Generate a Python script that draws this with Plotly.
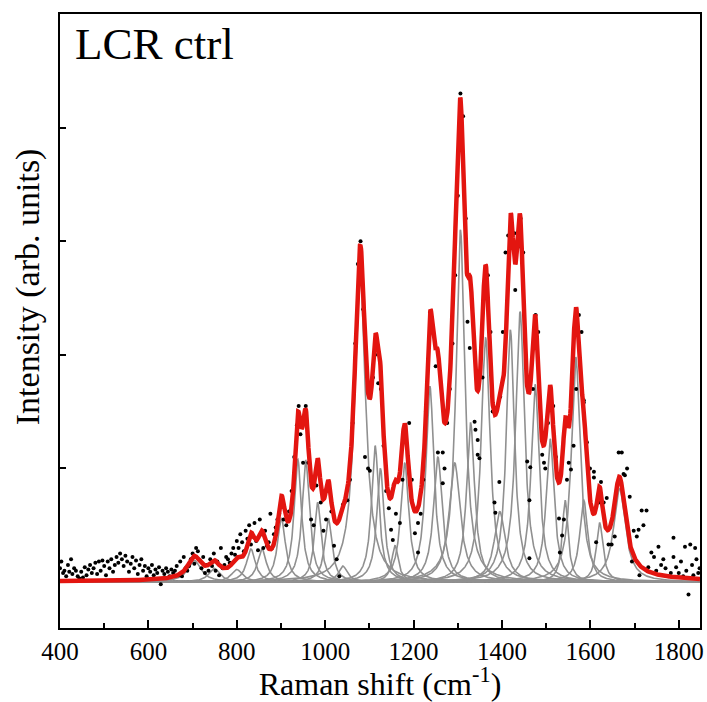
import numpy as np
import plotly.graph_objects as go

# Fitted Lorentzian components: centre (cm-1), height, half-width
peak_center = [704, 749, 800, 832, 857, 901, 938, 956, 983, 1007, 1040, 1079, 1113, 1125,
               1158, 1180, 1237, 1255, 1293, 1306, 1329, 1363, 1395, 1419, 1441, 1475,
               1509, 1543, 1567, 1585, 1621, 1666]
peak_height = [0.19, 0.12, 0.11, 0.29, 0.29, 0.56, 1.08, 1.07, 0.70, 0.56, 0.14, 2.72, 1.20, 1.00,
               0.32, 1.05, 1.72, 1.10, 1.05, 3.10, 1.40, 2.15, 0.62, 2.22, 2.38, 1.74,
               1.26, 0.72, 1.98, 0.72, 0.52, 0.82]
peak_width = [18, 15, 15, 12, 12, 11, 10, 10, 9, 10, 12, 15, 10, 10,
              9, 11, 11, 12, 15, 12, 11, 12, 15, 11, 12, 11,
              11, 8, 12, 11, 9, 16]

# Measured spectrum points (black dots)
dot_x = [400, 403, 407, 410, 414, 418, 421, 425, 428, 432, 436, 440, 444, 448, 452, 456, 460, 464,
         468, 472, 476, 480, 484, 488, 492, 496, 500, 504, 508, 512, 516, 520, 524, 528, 532, 536,
         540, 544, 548, 552, 556, 560, 564, 568, 572, 576, 580, 584, 588, 592, 596, 600, 604, 608,
         612, 616, 620, 624, 628, 632, 636, 640, 644, 648, 652, 656, 660, 664, 668, 672, 676, 680,
         684, 688, 692, 696, 700, 704, 708, 712, 716, 720, 724, 728, 732, 736, 740, 744, 748, 752,
         756, 760, 764, 768, 772, 776, 780, 784, 788, 792, 796, 800, 804, 808, 812, 816, 820, 824,
         828, 832, 836, 840, 844, 848, 852, 856, 860, 864, 868, 872, 876, 880, 884, 888, 892, 896,
         900, 906, 912, 918, 924, 930, 936, 940, 944, 950, 956, 962, 968, 974, 980, 984, 990, 996,
         1002, 1008, 1014, 1020, 1026, 1032, 1040, 1044, 1050, 1056, 1062, 1068, 1074, 1080, 1086,
         1090, 1097, 1101, 1108, 1113, 1120, 1126, 1132, 1138, 1144, 1149, 1153, 1160, 1169, 1175,
         1183, 1190, 1196, 1203, 1210, 1210, 1216, 1222, 1228, 1237, 1244, 1250, 1255, 1266, 1270,
         1266, 1276, 1282, 1288, 1294, 1300, 1306, 1312, 1318, 1322, 1327, 1338, 1340, 1345, 1345,
         1349, 1356, 1362, 1368, 1374, 1379, 1383, 1385, 1394, 1396, 1402, 1408, 1414, 1420, 1428,
         1430, 1436, 1442, 1448, 1452, 1457, 1462, 1462, 1464, 1470, 1476, 1482, 1491, 1495, 1498,
         1504, 1510, 1516, 1522, 1529, 1529, 1531, 1536, 1540, 1547, 1551, 1556, 1562, 1568, 1574,
         1580, 1585, 1585, 1592, 1599, 1608, 1608, 1613, 1619, 1624, 1630, 1637, 1641, 1648, 1655,
         1664, 1671, 1675, 1678, 1683, 1689, 1694, 1698, 1705, 1709, 1711, 1716, 1720, 1727, 1731,
         1738, 1744, 1749, 1754, 1760, 1765, 1770, 1776, 1782, 1788, 1788, 1794, 1800, 1805, 1810,
         1814, 1817, 1822, 1826, 1830, 1833, 1837, 1840, 1844, 1847]
dot_y = [0.12, 0.18, 0.08, 0.10, 0.05, 0.15, 0.09, 0.20, 0.07, 0.12, 0.10, 0.05, 0.03, 0.09, 0.04,
         0.13, 0.06, 0.11, 0.15, 0.08, 0.12, 0.17, 0.07, 0.18, 0.10, 0.19, 0.14, 0.06, 0.18, 0.12,
         0.20, 0.09, 0.15, 0.22, 0.17, 0.25, 0.20, 0.14, 0.23, 0.18, 0.09, 0.16, 0.22, 0.12, 0.19,
         0.07, 0.15, 0.20, 0.10, 0.14, 0.05, 0.12, 0.09, 0.15, 0.06, 0.11, 0.08, 0.13, -0.02, 0.10,
         0.07, 0.12, 0.09, 0.05, 0.11, 0.08, 0.10, 0.14, 0.06, 0.18, 0.05, 0.22, 0.12, 0.10, 0.14,
         0.20, 0.25, 0.16, 0.30, 0.27, 0.19, 0.12, 0.22, 0.08, 0.15, 0.10, 0.20, 0.14, 0.25, 0.10,
         0.18, 0.06, 0.30, 0.12, 0.15, 0.22, 0.20, 0.17, 0.25, 0.30, 0.24, 0.36, 0.30, 0.42, 0.35,
         0.27, 0.45, 0.38, 0.50, 0.33, 0.40, 0.52, 0.36, 0.28, 0.55, 0.42, 0.30, 0.45, 0.32, 0.35,
         0.60, 0.30, 0.42, 0.48, 0.55, 0.60, 0.70, 0.55, 0.50, 0.62, 0.80, 1.10, 1.38, 1.55, 1.30,
         1.05, 1.55, 1.05, 0.55, 0.50, 0.85, 1.00, 0.70, 0.45, 0.55, 0.80, 0.62, 0.32, 0.20, 0.05,
         0.68, 0.70, 0.72, 0.90, 1.40, 2.10, 2.80, 3.00, 2.40, 1.10, 1.00, 0.98, 1.80, 2.00, 1.75,
         1.70, 1.20, 0.80, 0.65, 0.46, 0.37, 0.60, 0.52, 0.90, 1.25, 1.40, 0.90, 0.43, 0.26, 0.52,
         0.60, 0.90, 1.50, 2.37, 2.20, 1.90, 1.14, 1.14, 1.00, 0.87, 1.40, 1.70, 2.10, 2.70, 3.40,
         4.30, 4.10, 3.20, 2.29, 2.06, 1.41, 1.34, 1.25, 1.12, 1.09, 1.80, 2.50, 2.70, 2.20, 1.50,
         0.70, 0.61, 0.88, 1.63, 2.20, 2.90, 3.05, 3.10, 3.07, 2.57, 2.95, 3.20, 2.90, 2.20, 1.06,
         0.72, 0.21, 1.01, 1.70, 2.35, 2.20, 1.12, 1.05, 1.00, 1.40, 1.70, 1.55, 1.10, 0.90, 0.56,
         0.26, 0.41, 0.55, 0.90, 1.05, 0.99, 1.20, 1.70, 2.35, 2.20, 1.60, 1.58, 1.23, 1.00, 0.97,
         0.92, 0.35, 0.70, 0.88, 0.70, 0.74, 0.33, 0.33, 0.40, 1.14, 1.14, 0.95, 0.94, 1.00, 0.75,
         0.18, 0.45, 0.40, 0.46, 0.06, 0.63, 0.50, 0.63, 0.13, 0.26, 0.22, 0.10, 0.31, 0.15, 0.20,
         0.12, 0.05, 0.08, 0.22, 0.39, 0.13, 0.08, 0.18, 0.05, 0.31, 0.10, -0.11, 0.33, 0.15, 0.06,
         0.30, 0.20, 0.08, 0.12, 0.05]

x_ticks = [400, 600, 800, 1000, 1200, 1400, 1600, 1800]

xs = np.linspace(400, 1848, 2000)


def lorentz(x, c, a, w):
    return a / (1.0 + ((x - c) / w) ** 2)


fig = go.Figure()
total = np.zeros_like(xs)
for c, a, w in zip(peak_center, peak_height, peak_width):
    comp = lorentz(xs, c, a, w)
    total += comp
    fig.add_trace(go.Scatter(x=xs, y=comp, mode="lines",
                             line=dict(color="#909090", width=1.6),
                             showlegend=False, hoverinfo="skip"))

fig.add_trace(go.Scatter(x=dot_x, y=dot_y, mode="markers",
                         marker=dict(color="black", size=4), showlegend=False))
fig.add_trace(go.Scatter(x=xs, y=total, mode="lines",
                         line=dict(color="#e31510", width=4.5), showlegend=False))

serif = "Liberation Serif, Times New Roman, serif"
fig.update_layout(
    width=707, height=702,
    margin=dict(l=60, r=3, t=14, b=74),
    plot_bgcolor="white", paper_bgcolor="white",
    font=dict(family=serif, color="black"),
    annotations=[
        dict(text="LCR ctrl", x=0.02, y=0.995, xref="paper", yref="paper",
             xanchor="left", yanchor="top", showarrow=False,
             font=dict(family=serif, size=45, color="black")),
        dict(text="Intensity (arb. units)", x=-0.05, y=0.555, xref="paper", yref="paper",
             xanchor="center", yanchor="middle", textangle=-90, showarrow=False,
             font=dict(family=serif, size=34, color="black")),
    ],
)
fig.update_xaxes(range=[400, 1848], tickvals=x_ticks, ticks="inside", ticklen=8, tickwidth=1.5,
                 tickcolor="black", showline=True, linecolor="black", linewidth=1.5, mirror=True,
                 showgrid=False, zeroline=False, tickfont=dict(family=serif, size=25),
                 minor=dict(dtick=100, ticks="inside", ticklen=5, tickwidth=1.5, tickcolor="black"),
                 title=dict(text="Raman shift (cm<sup>-1</sup>)", font=dict(family=serif, size=32),
                            standoff=2))
fig.update_yaxes(range=[-0.405, 5.0], tickvals=[1, 2, 3, 4], showticklabels=False,
                 ticks="inside", ticklen=6, tickwidth=1.5, tickcolor="black",
                 showline=True, linecolor="black", linewidth=1.5, mirror=True,
                 showgrid=False, zeroline=False)

fig.write_html("out.html")
